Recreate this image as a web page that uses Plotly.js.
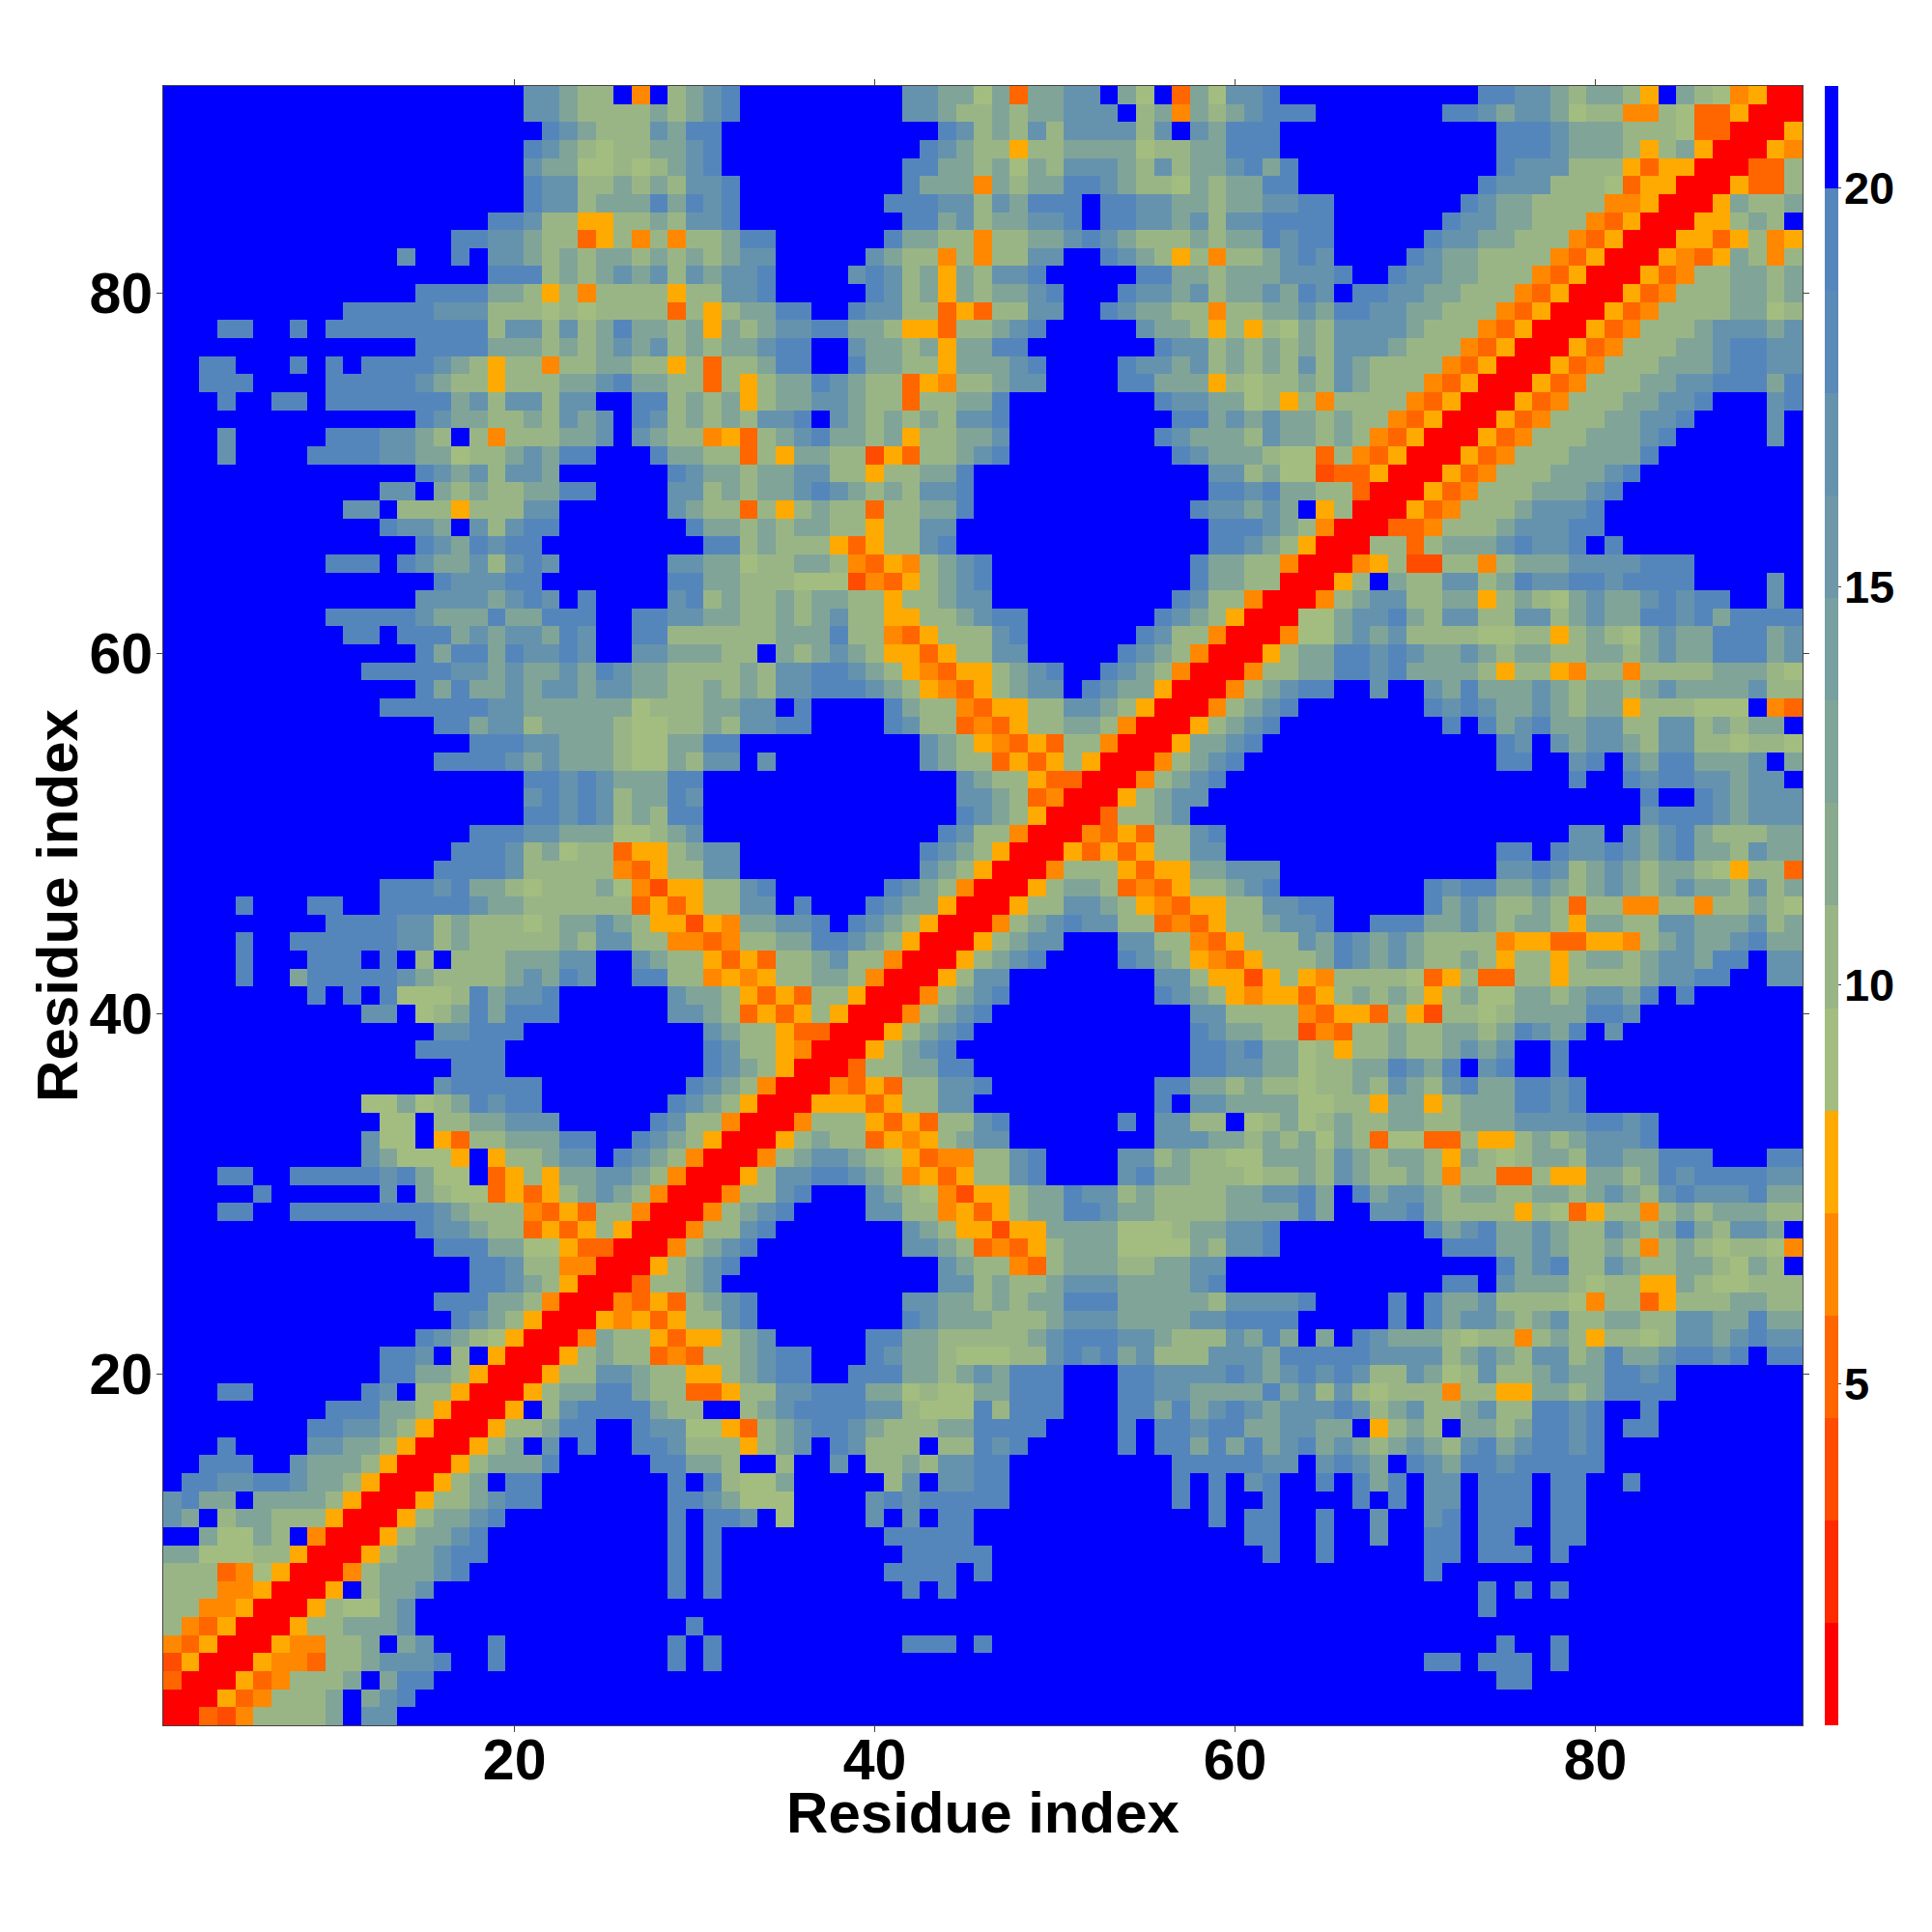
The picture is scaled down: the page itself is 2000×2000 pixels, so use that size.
<!DOCTYPE html>
<html>
<head>
<meta charset="utf-8">
<script src="https://cdn.plot.ly/plotly-3.0.1.min.js"></script>
<style>html,body{margin:0;padding:0;background:#fff}</style>
</head>
<body>
<div id="chart" style="width:2000px;height:2000px"></div>
<script>
// Distance class of every residue pair: one symbol per cell,
// row strings run from residue 91 (top) down to residue 1 (bottom).
const bandRowsTop = [
"ffffffffff ffffffffff cca88f4f8a ceffffffff fccaa6a3aa ccfa6f3a6c c efffffffff ffeecca8aa 85fa864500",
"ffffffffff ffffffffff cca8888a8a ceffffffff fcca88a8aa cccf8a4a8a c eeefffffff eecacca688 4486335000",
"ffffffffff ffffffffff feca888cae efffffffff fffec8a8c8 cccc8cfcae e efffffffff fffeeecaaa 8886330005",
"ffffffffff ffffffffff eca8688aac efffffffff ffeca88588 aaaa688aae e efffffffff fffeeecaaa 858a500054",
"ffffffffff ffffffffff caa66868ac efffffffff feeaa8a6a8 ccca8c8aac e aeffffffff fffeccc888 5355000338",
"ffffffffff ffffffffff ecc88a8a8c ceffffffff feaaa4a8aa eeca886a8a a eeffffffff ffeccc8886 3550005338",
"ffffffffff ffffffffff ecc8aaaeae ceffffffff eeecc8caee efeeccaa8a a cceeffffff fecaa88884 450005a88a",
"ffffffffff ffffffffee c885588a8c ceffffffff feeac8aacc efeeccac8c c eeeeffffff eccaa88843 5000558a8f",
"ffffffffff ffffffeecc a883584848 8aeeffffff eaa88488aa ceca888a8a a eceefffffe ccaa888435 0005535845",
"ffffffffff fffcffefcc a8a8aa8a8a 8accfffffc a8848488cc ffeca85848 8 acecffffec aa88884350 005435a848",
"ffffffffff ffffffffee e8a8acac8c acceffffce c8a5a8ccef ffffeeaa8a a accceffecc aa88843500 053488aa8a",
"ffffffffff ffffeeeeaa 8584888858 8ccefffffe c8a5a8aace fffeccac8a a caecfeecca a888435000 534888aa8a",
"ffffffffff eeeeeccc88 8686888838 58aaeeffec c8835388cc ffecaa8848 8 aacaeeccaa 8884350005 348888aa68",
"fffeeffefe eeeeeeee8c c8c8aeaa8a 5a8acceeaa 855388acef ffffcaa858 5 86a8cccca8 8843500053 4888acccac",
"ffffffffff ffffeeeeaa a8a8acac8a 8aaceeffca a8a5aaeeff fffffecc8a 8 a8a8ccca88 8435000534 888aaceecc",
"ffeefffefe feeeeca858 8488aa8858 388aeeffea a885aaacef fffeccac8a 8 a8c8ca8888 4350005348 88aaaceecc",
"ffeeeffffe eeeeca8858 88aaceaa88 3858aaeca8 835488accf fffeeaaa58 6 88a8ca8884 3500053488 8aacceeeae",
"fffeffeefe eeeeeeac8c c8ccffee8a 8a58aacca8 8388aaefff fffffeccaa 6 8584888843 5000534888 aaccefffce",
"ffffffffff ffffecaa88 a8cacfec8a 8a8ccefca8 a8a8ccefff ffffffeeac a caa8a88435 000534888a acceffffcf",
"fffcfffffe eecca8f848 88aacfca88 4538aceaa8 a588aacfff fffffecaaa 8 caa8a84350 00534888aa acefffffcf",
"fffcffffee eeccaa688a caeefffeaa 88385aa882 5388acefff ffffffecaa a 8663843500 0534888aaa aeffffffff",
"ffffffffff ffffecac8c caffffffec aa8aacc885 88aaefffff ffffffffcc 8 a662335000 534888aaac efffffffff",
"ffffffffff ffccfa8a88 aaeeffffcc 8a8aaceca8 a8ccefffff ffffffffee c eaa8830005 34888aaace ffffffffff",
"ffffffffff ccf8885888 ccffffffca 883858a883 88aaefffff fffffffecc a caf5800053 4888acccef ffffffffff",
"ffffffffff ffeccafc8c eefffffffe aa8a8aa885 88ccffffff ffffffffee e ca84000334 888accceef ffffffffff",
"ffffffffff ffffecaece efffffffff ee8a888535 88ceffffff ffffffffee c a850008838 aaaceccefe ffffffffff",
"fffffffffe eefecaac8c ecffffffcc aa688aa843 548aceffff fffffffeaa 8 8400045822 8848aaaccc ceeeffffff",
"ffffffffff fffffeccce efffffffee aa88866624 358aceffff fffffffeaa 8 800058fa88 cc8aecceec eeeeffffcf",
"ffffffffff ffffccccac ecfeffffce 8a88a8aa88 588accffff ffffffec88 4 00048acc88 aa58a86aca aceceeffcf",
"fffffffffe eeeecaaaea aeeeffeecc aa88a8ac88 5588aceeff fffffeca85 0 0066accea8 cc88cc8aca aeeceaeeee"
];
const bandRowsMiddle = [
"ffffffffff eefeeeacac caecffee88 8888aaae88 435888ceff ffffec8840 0 0466acac88 88668858a8 6acaaeeeac",
"ffffffffff ffffeaeeae ccecffccaa a88fa8aca8 553588ccff fffeca8400 0 58aaeececa aca8aa88aa 8acaaeeeac",
"ffffffffff feeeeeccac aacaecaa88 88a8cceeca 8543558ace ffeca84000 4 88aaeeceaa aa85885488 48888aaa86",
"ffffffffff ffffeaeaac accaccaa88 a8a8cceeec a854358acc fecaa50004 8 aceeffcffc aeaaaca8aa 8acaaaac88",
"ffffffffff ffeeeeeecc aaaaaa6888 aaccfeffff ea88435588 cca8500048 a cefffffffe cecaaca8aa 5888666f43",
"ffffffffff fffffeeacc 8aaaa86688 a8cceeffff ec88343588 aa8400058a c efffffffff efeaceaacc 88cc8a8aaf",
"ffffffffff fffffffeee ccaaa866aa eeffffffff ffca854353 8840005aac e ffffffffff fffecfcacc a8cc886886",
"ffffffffff fffffeeeec acaaa866a8 ccfcffffff ffca883535 8500048ace f ffffffffff fffeeffcef caeeaaacfa",
"ffffffffff ffffffffff eececaaaee ffffffffff ffffca8853 300048acef f ffffffffff fffffffeff eceeccaccf",
"ffffffffff ffffffffff cecec8aaec ffffffffff ffffcca834 00058accff f ffffffffff ffffffffff feffecaccc",
"ffffffffff ffffffffff eecec8a8ee ffffffffff ffffeca850 00388acfff f ffffffffff ffffffffff fceeecaccc",
"ffffffffff fffffffeee ccaaa668ac ffffffffff fffec88400 0435388cef f ffffffffff fffffffccf cacea888aa",
"ffffffffff ffffffeeec 8a6883558a ccffffffff ffeca85000 5353588ccf f ffffffffff fffeefecce caceaa8caa",
"ffffffffff fffffeeeec 8888843588 ccffffffff ffca850004 8885355aac c cfffffffff fffccec8ac a8aa865883",
"ffffffffff ffeeeceaa8 6888a64255 88ceffffff eca8400058 aa8343588a c effffffffe ceeaaca8ac a8acaa8c8a",
"ffffefffee ffeeeeecaa 8888883535 88ccfefffe caa5000588 cca8543558 8 cceefffffe aca88a8388 4488488a86",
"fffffffffe eeecc8a888 68aaca8552 54aaccefec a8500048ac ecc8834358 8 acceffeeea aca8aa85aa 88ccaaac8a",
"ffffeffeee eeecc8a888 88a8cc8844 3488aaeeca 8500058acc fffcc88435 8 88caecaca8 8884553355 48acaaceaa",
"ffffefffee efef8f888a aaccffca88 535388ac88 400058acef fffeca8543 5 888aecaca8 8a858858aa 8accaeefcc",
"ffffeffaee eeeca8888a caecffee88 454588aa84 00058ccfff fffffcc855 2 5854888863 5833885888 8acceeffcc",
"ffffffffef efe6668eac ceffffffca a853538850 0048acefff fffffeca85 4 55358a8a85 8a66aa8acc aefeffffff",
"ffffffffff fccf68aeae eeffffffcc a835358500 048aceffff fffffffcc8 8 8843553852 8868aaaaee cfffffffff",
"ffffffffff fffffcceee ffffffffff ca88533000 58acefffff fffffffeca a 8824388a88 aa8aecaefc ffffffffff",
"ffffffffff ffffeeeeef ffffffffff ec88540005 8aceffffff fffffffeec e aa68588a88 acacffefff ffffffffff",
"ffffffffff ffffffeeef ffffffffff eca8500038 8aaeefffff fffffffeec c aa688aaeca efceffefff ffffffffff",
"ffffffffff fffffceeee effffffffe ca84000435 388cceffff fffffeeaa8 a 88688a8ca8 ceaaeeceff ffffffffff",
"ffffffffff f66a68aece efffffffec a850005553 588ccfffff fffffefcca a aa66885aa5 8aaaeeceff ffffffffff",
"ffffffffff ff66f88aac ccfffffec8 8400048885 35388cefff fffefcc88f 6 8a68a88aa8 8aaaccccee ceffffffff",
"ffffffffff fc66f5388a aaeeffeca8 500058a883 5458accfff fffffcccaa 8 a8a6a83663 38558a8acc ceffffffff",
"ffffffffff fca6665f58 8accfeca84 00048acca8 6534488cef fffcc8a886 6 aaa8ca8aa8 5a868aa8cc aaeeefffee",
"fffeeffeee eecea66f35 85aacca840 0058cceeca 8453588cef fffceaa888 6 88a8ca88a8 48833855aa 8aeceeeecc"
];
const bandRowsBottom = [
"fffffeffff ffcfa86635 358aca8400 0488cefffc a8642558aa ecc8a8888a a cceafeacca 8aa88aa8ac a8ceccceaa",
"fffeeffeee eeeeeca888 4353884000 48aceffffc c8845358aa eecaa8888a a aaeaffccea 8888586358 848a8aaa88",
"ffffffffff ffffecca88 3535850004 88ceffffff fca855255a aaa6668aac c effffffffe aceaaca88c a8aea8ccaf",
"ffffffffff fffffeeeaa 6653300048 acefffffff fcca834358 aaa6666a8c c efffffffff eeeaaca88a 848a868864",
"ffffffffff fffffffeec 884400058a ceffffffff fffca88438 aaa88aaccf f ffffffffff fffeace88c a88aa86a8f",
"ffffffffff fffffffeec a85000388a cfffffffff fffcc8a88a cccaaaacef f ffffffffff eefcaaa868 855a866888",
"ffffffffff fffffeeeaa 8400043538 acefffffff fccaa8a8aa eeeaaaaa8c c cceffffefe aac8888648 835888aa88",
"ffffffffff ffffffeca8 5000545358 8cefffffff fecaaa888a cccaaaacce e eefffffefe acca8ac88a a88ccaaeaa",
"ffffffffff ffffeca865 0004a88535 58acfffffe eaa88888ac eeecca888c a eafafecaaa 868848a858 868ccacecc",
"ffffffffff ffeecf8f50 0058a88343 88aceefffe caa866688c eceac888cc c aeeeeecccc 8aca8cc8ae aaceecefee",
"ffffffffff ffeeaa8500 0588cca885 58aceeffee eaa8acaeee fffeecccce c acecec88ca 68c88acaae ecefffffff",
"fffeefffff fecf885000 58aaeea883 3588cceeea a6866aaeee fffeeccaaa a eac8c86888 48855aa8ae eeefffffff",
"fffffffffe eeaa850005 f8ceeeea88 ff8aceeeec c8666e8eee fffeeaeace c acccec8ac8 8ac88eecef feffffffff",
"ffffffffee cca8500058 8aeeffecc6 6538aceeca 888aaeeeef fffefeecee a accaaf58a8 faa8aeecef eeffffffff",
"fffeffffcc aa8500058a fcfeffeec8 8858acfec8 88f88eceff fffefeeaea e aceaca8aca 8ceaceecef ffffffffff",
"ffeeeffcaa a8500058aa aefffffeea a8ff8ffcf8 8a8cceefff ffffffeeee e ccfcecafec aeeceeeeef ffffffffff",
"feecceecaa 8500058afe efffffffef e866afffff 8cfcceefff ffffffefef c effefeaefc cfeeefeeff efffffffff",
"ceaafaaaa8 5000588ace efffffffee ca666ffffc eceeeeefff ffffffefef f effffefefc cfeeefeeff ffffffffff",
"caf8aa8885 00058aacef ffffffffef eecf6ffffc fcfeefffff ffffffffef e effeffcffc efeeefeeff ffffffffff",
"ffa66a8f40 0058aaceff ffffffffef efffffffff eeeeefffff ffffffffff e effeffcffe efeeffeeff ffffffffff",
"aa66688500 058aaceeff ffffffffef efffffffff feeeeeffff ffffffffff f effefffffe efeeefefff ffffffffff",
"8883465000 48aaacefff ffffffffef efffffffff eeeefeffff ffffffffff f fffffffffe ffffffffff ffffffffff",
"8884450005 f8aacfffff ffffffffef efffffffff fefeffffff ffffffffff f ffffffffff ffefefefff ffffffffff",
"8844500058 66acffffff ffffffffff ffffffffff ffffffffff ffffffffff f ffffffffff ffefffffff ffffffffff",
"8435000588 aaacffffff fffffffffe ffffffffff ffffffffff ffffffffff f ffffffffff ffffffffff ffffffffff",
"4350005448 8afacfffef ffffffffef efffffffff feeefeffff ffffffffff f ffffffffff fffeffefff ffffffffff",
"2500054438 8accceffef ffffffffef efffffffff ffffffffff ffffffffff f fffffffffe efeeefefff ffffffffff",
"3000534888 afaeefffff ffffffffff ffffffffff ffffffffff ffffffffff f ffffffffff fffeefffff ffffffffff",
"000534888a faceffffff ffffffffff ffffffffff ffffffffff ffffffffff f ffffffffff ffffffffff ffffffffff",
"003248888a fccfffffff ffffffffff ffffffffff ffffffffff ffffffffff f ffffffffff ffffffffff ffffffffff"
];
// Which colour band of the colour bar each symbol in the rows stands for.
const symbolBands = {"0":0,"2":2,"3":3,"4":4,"5":5,"6":6,"8":7,"a":9,"c":12,"e":14,"f":15};
const bandColors = ["#ff0000","#ff2a00","#ff4c00","#ff6600","#ff8800","#ffaa00",
  "#a3bd80","#9ab585","#8aaa8f","#80a598","#78a0a0","#6e97a8","#6593ae","#5a8ab7","#5586bb","#0000ff"];
const zBottom = 0.71, zTop = 21.28;
const colorbarTicks = [5, 10, 15, 20];
const axisTicks = [20, 40, 60, 80];

const bandWidth = (zTop - zBottom) / bandColors.length;
const rows = bandRowsTop.concat(bandRowsMiddle, bandRowsBottom);
const z = rows.map(r => {
  const s = r.replace(/\s/g, "");
  return Array.from(s).map(c => zBottom + (symbolBands[c] + 0.5) * bandWidth);
}).reverse();
const residues = z.map((_, i) => i + 1);
const scale = [];
bandColors.forEach((c, i) => {
  scale.push([i / bandColors.length, c]);
  scale.push([(i + 1) / bandColors.length, c]);
});
const font = {family: '"Liberation Sans", Arial, sans-serif', color: "#000", weight: "bold"};
const axisStyle = {
  range: [0.5, 91.5], tickmode: "array", tickvals: axisTicks, ticktext: axisTicks.map(String),
  ticks: "outside", ticklen: 6, tickwidth: 1, tickcolor: "#444",
  showline: true, linecolor: "#444", linewidth: 1, mirror: "ticks",
  showgrid: false, zeroline: false, tickfont: Object.assign({size: 59}, font)
};
Plotly.newPlot("chart", [{
  type: "heatmap", x: residues, y: residues, z: z, colorscale: scale,
  zmin: zBottom, zmax: zTop, zsmooth: false,
  colorbar: {
    x: 1.0138, xanchor: "left", xpad: 0, y: 0.5, yanchor: "middle", ypad: 0, len: 1,
    thickness: 14, outlinewidth: 0, ticks: "outside", ticklen: 3, tickwidth: 1, tickcolor: "#444",
    tickmode: "array", tickvals: colorbarTicks, ticktext: colorbarTicks.map(String),
    tickfont: Object.assign({size: 47}, font)
  }
}], {
  width: 2000, height: 2000, paper_bgcolor: "#fff", plot_bgcolor: "#fff",
  margin: {l: 169, r: 134, t: 89, b: 214, pad: 0},
  font: font,
  xaxis: Object.assign({}, axisStyle, {ticklabelstandoff: -22,
    title: {text: "Residue index", font: Object.assign({size: 60}, font), standoff: 0}}),
  yaxis: Object.assign({}, axisStyle, {ticklabelstandoff: -8,
    title: {text: "Residue index", font: Object.assign({size: 60}, font), standoff: 6}})
}, {displayModeBar: false}).then(() => {
  // Fine placement of the axis titles and colour bar labels, beyond what standoff allows.
  const gx = document.querySelector(".g-xtitle");
  const gy = document.querySelector(".g-ytitle");
  if (gx) gx.setAttribute("transform", "translate(0,1)");
  if (gy) gy.setAttribute("transform", "translate(14,0)");
  document.querySelectorAll(".colorbar text").forEach(t => t.setAttribute("dx", "-6"));
});
</script>
</body>
</html>
